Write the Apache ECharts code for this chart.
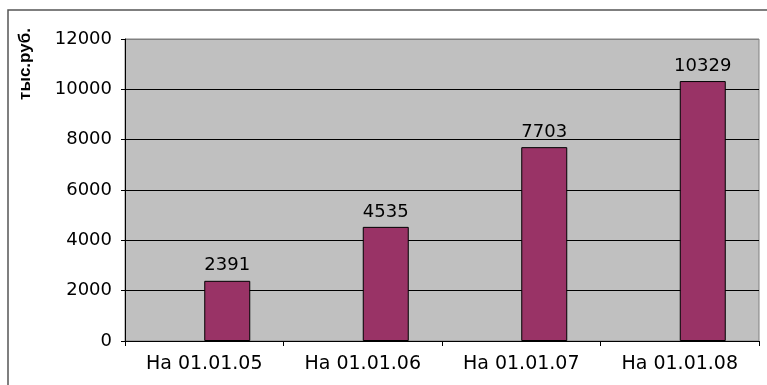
<!DOCTYPE html>
<html>
<head>
<meta charset="utf-8">
<script src="https://cdn.jsdelivr.net/npm/echarts@6/dist/echarts.min.js"></script>
<style>
html,body{margin:0;padding:0;background:#fff;}
#chart{width:767px;height:385px;}
</style>
</head>
<body>
<div id="chart"></div>
<script>
// данные
var categories = ['На 01.01.05', 'На 01.01.06', 'На 01.01.07', 'На 01.01.08'];
var values = [2391, 4535, 7703, 10329];
var emptyValues = ['-', '-', '-', '-']; // пустой ряд, как в Excel
var yTitle = 'тыс.руб.';

var chart = echarts.init(document.getElementById('chart'));
var font = 'DejaVu Sans';

chart.setOption({
	animation: false,
	backgroundColor: '#fff',
	grid: {
		left: 125, right: 8, top: 39, bottom: 44,
		show: true,
		backgroundColor: '#c0c0c0',
		borderColor: '#808080',
		borderWidth: 1
	},
	graphic: [
		{
			type: 'polyline',
			shape: { points: [[8, 385], [8, 10], [767, 10]] },
			style: { stroke: '#555', lineWidth: 1.5, fill: null }
		},
		{
			type: 'text',
			x: 25, y: 64,
			rotation: Math.PI / 2,
			style: {
				text: yTitle,
				font: 'bold 17px "Liberation Sans"',
				fill: '#000',
				align: 'center',
				verticalAlign: 'middle'
			}
		}
	],
	xAxis: {
		type: 'category',
		data: categories,
		axisLine: { lineStyle: { color: '#000', width: 1 } },
		axisTick: { show: true, length: 5, lineStyle: { color: '#000' } },
		axisLabel: { color: '#000', fontFamily: font, fontSize: 19, margin: 14 }
	},
	yAxis: {
		type: 'value',
		min: 0, max: 12000, interval: 2000,
		axisLine: { show: true, lineStyle: { color: '#000' } },
		axisTick: { show: true, length: 4, lineStyle: { color: '#000' } },
		axisLabel: {
			color: '#000', fontFamily: font, fontSize: 18, margin: 13,
			formatter: function (v) { return String(v); }
		},
		splitLine: { show: true, lineStyle: { color: ['#000', '#000', '#000', '#000', '#000', '#000', '#808080'], width: 1 } }
	},
	series: [
		{
			type: 'bar',
			data: emptyValues,
			barWidth: 46,
			barGap: '0%'
		},
		{
			type: 'bar',
			data: values,
			barWidth: 46,
			barGap: '0%',
			itemStyle: { color: '#993366', borderColor: '#000', borderWidth: 1 },
			label: {
				show: true, position: 'top', distance: 6,
				color: '#000', fontFamily: font, fontSize: 18
			}
		}
	]
});
</script>
</body>
</html>
